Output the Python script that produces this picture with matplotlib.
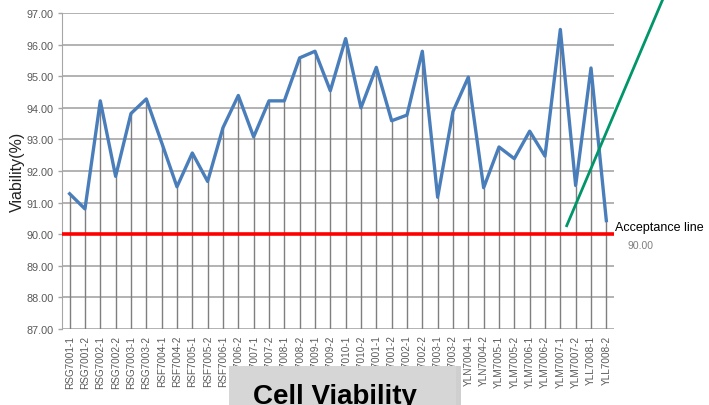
"""Cell viability per batch with acceptance line."""

import matplotlib.pyplot as plt
from matplotlib.lines import Line2D
from matplotlib.patches import Rectangle

plt.rcParams["font.family"] = ["Liberation Sans", "DejaVu Sans"]

batches = (
    [f"RSG700{n}-{k}" for n in range(1, 4) for k in (1, 2)]
    + [f"RSF70{n:02d}-{k}" for n in range(4, 11) for k in (1, 2)]
    + [f"YLN700{n}-{k}" for n in range(1, 5) for k in (1, 2)]
    + [f"YLM700{n}-{k}" for n in range(5, 8) for k in (1, 2)]
    + [f"YLL7008-{k}" for k in (1, 2)]
)
viability = [
    91.28, 90.80, 94.22, 91.83, 93.82, 94.28, 92.90, 91.50, 92.57, 91.67,
    93.37, 94.39, 93.08, 94.22, 94.22, 95.58, 95.79, 94.54, 96.19, 94.00,
    95.28, 93.59, 93.77, 95.79, 91.17, 93.88, 94.97, 91.47, 92.76, 92.39,
    93.26, 92.47, 96.48, 91.54, 95.26, 90.43,
]
acceptance = 90.0
y_ticks = [87, 88, 89, 90, 91, 92, 93, 94, 95, 96, 97]

fig = plt.figure(figsize=(7.09, 4.06), dpi=100)
ax = fig.add_axes([0.0874, 0.1872, 0.7786, 0.7783])

x = list(range(len(batches)))

# gridlines and drop lines
for v in y_ticks:
    ax.axhline(v, color="#a6a6a6", linewidth=1.2, zorder=1)
ax.vlines(x, y_ticks[0], viability, color="#7f7f7f", linewidth=1.0, zorder=2)

ax.plot(x, viability, color="#4a7ebb", linewidth=2.4, zorder=3)
ax.axhline(acceptance, color="#ff0000", linewidth=2.6, zorder=4)

ax.set_xlim(-0.5, len(batches) - 0.5)
ax.set_ylim(87, 97)
ax.set_yticks(y_ticks)
ax.set_yticklabels([f"{v:.2f}" for v in y_ticks])
ax.set_xticks(x)
ax.set_xticklabels(batches, rotation=90)
ax.tick_params(axis="x", length=0, pad=4, labelsize=7.2, labelcolor="#595959")
ax.tick_params(axis="y", length=3, width=1, color="#a6a6a6", pad=3,
               labelsize=7.8, labelcolor="#595959")
for side in ("top", "right", "bottom"):
    ax.spines[side].set_visible(False)
ax.spines["left"].set_color("#a6a6a6")
ax.set_ylabel("Viability(%)", fontsize=11.5, color="#222222")
ax.yaxis.set_label_coords(-0.068, 0.5)

# annotation for the acceptance line
fig.add_artist(Line2D([0.7993, 0.935], [0.4416, 1.0], color="#00966a",
                      linewidth=2.0, zorder=6))
fig.text(0.868, 0.438, "Acceptance line", fontsize=9, color="black",
         ha="left", va="center")
fig.text(0.903, 0.394, f"{acceptance:.2f}", fontsize=7.5, color="#7f7f7f",
         ha="center", va="center")

# title box
fig.add_artist(Rectangle((0.330, -0.05), 0.320, 0.146, transform=fig.transFigure,
                         facecolor="#b0b0b0", edgecolor="none", alpha=0.6, zorder=5))
fig.add_artist(Rectangle((0.323, -0.05), 0.320, 0.146, transform=fig.transFigure,
                         facecolor="#d6d6d6", edgecolor="none", zorder=6))
fig.text(0.473, 0.006, "Cell Viability", fontsize=20, fontweight="bold",
         ha="center", va="baseline", zorder=7)

fig.savefig("out.png", dpi=100)
